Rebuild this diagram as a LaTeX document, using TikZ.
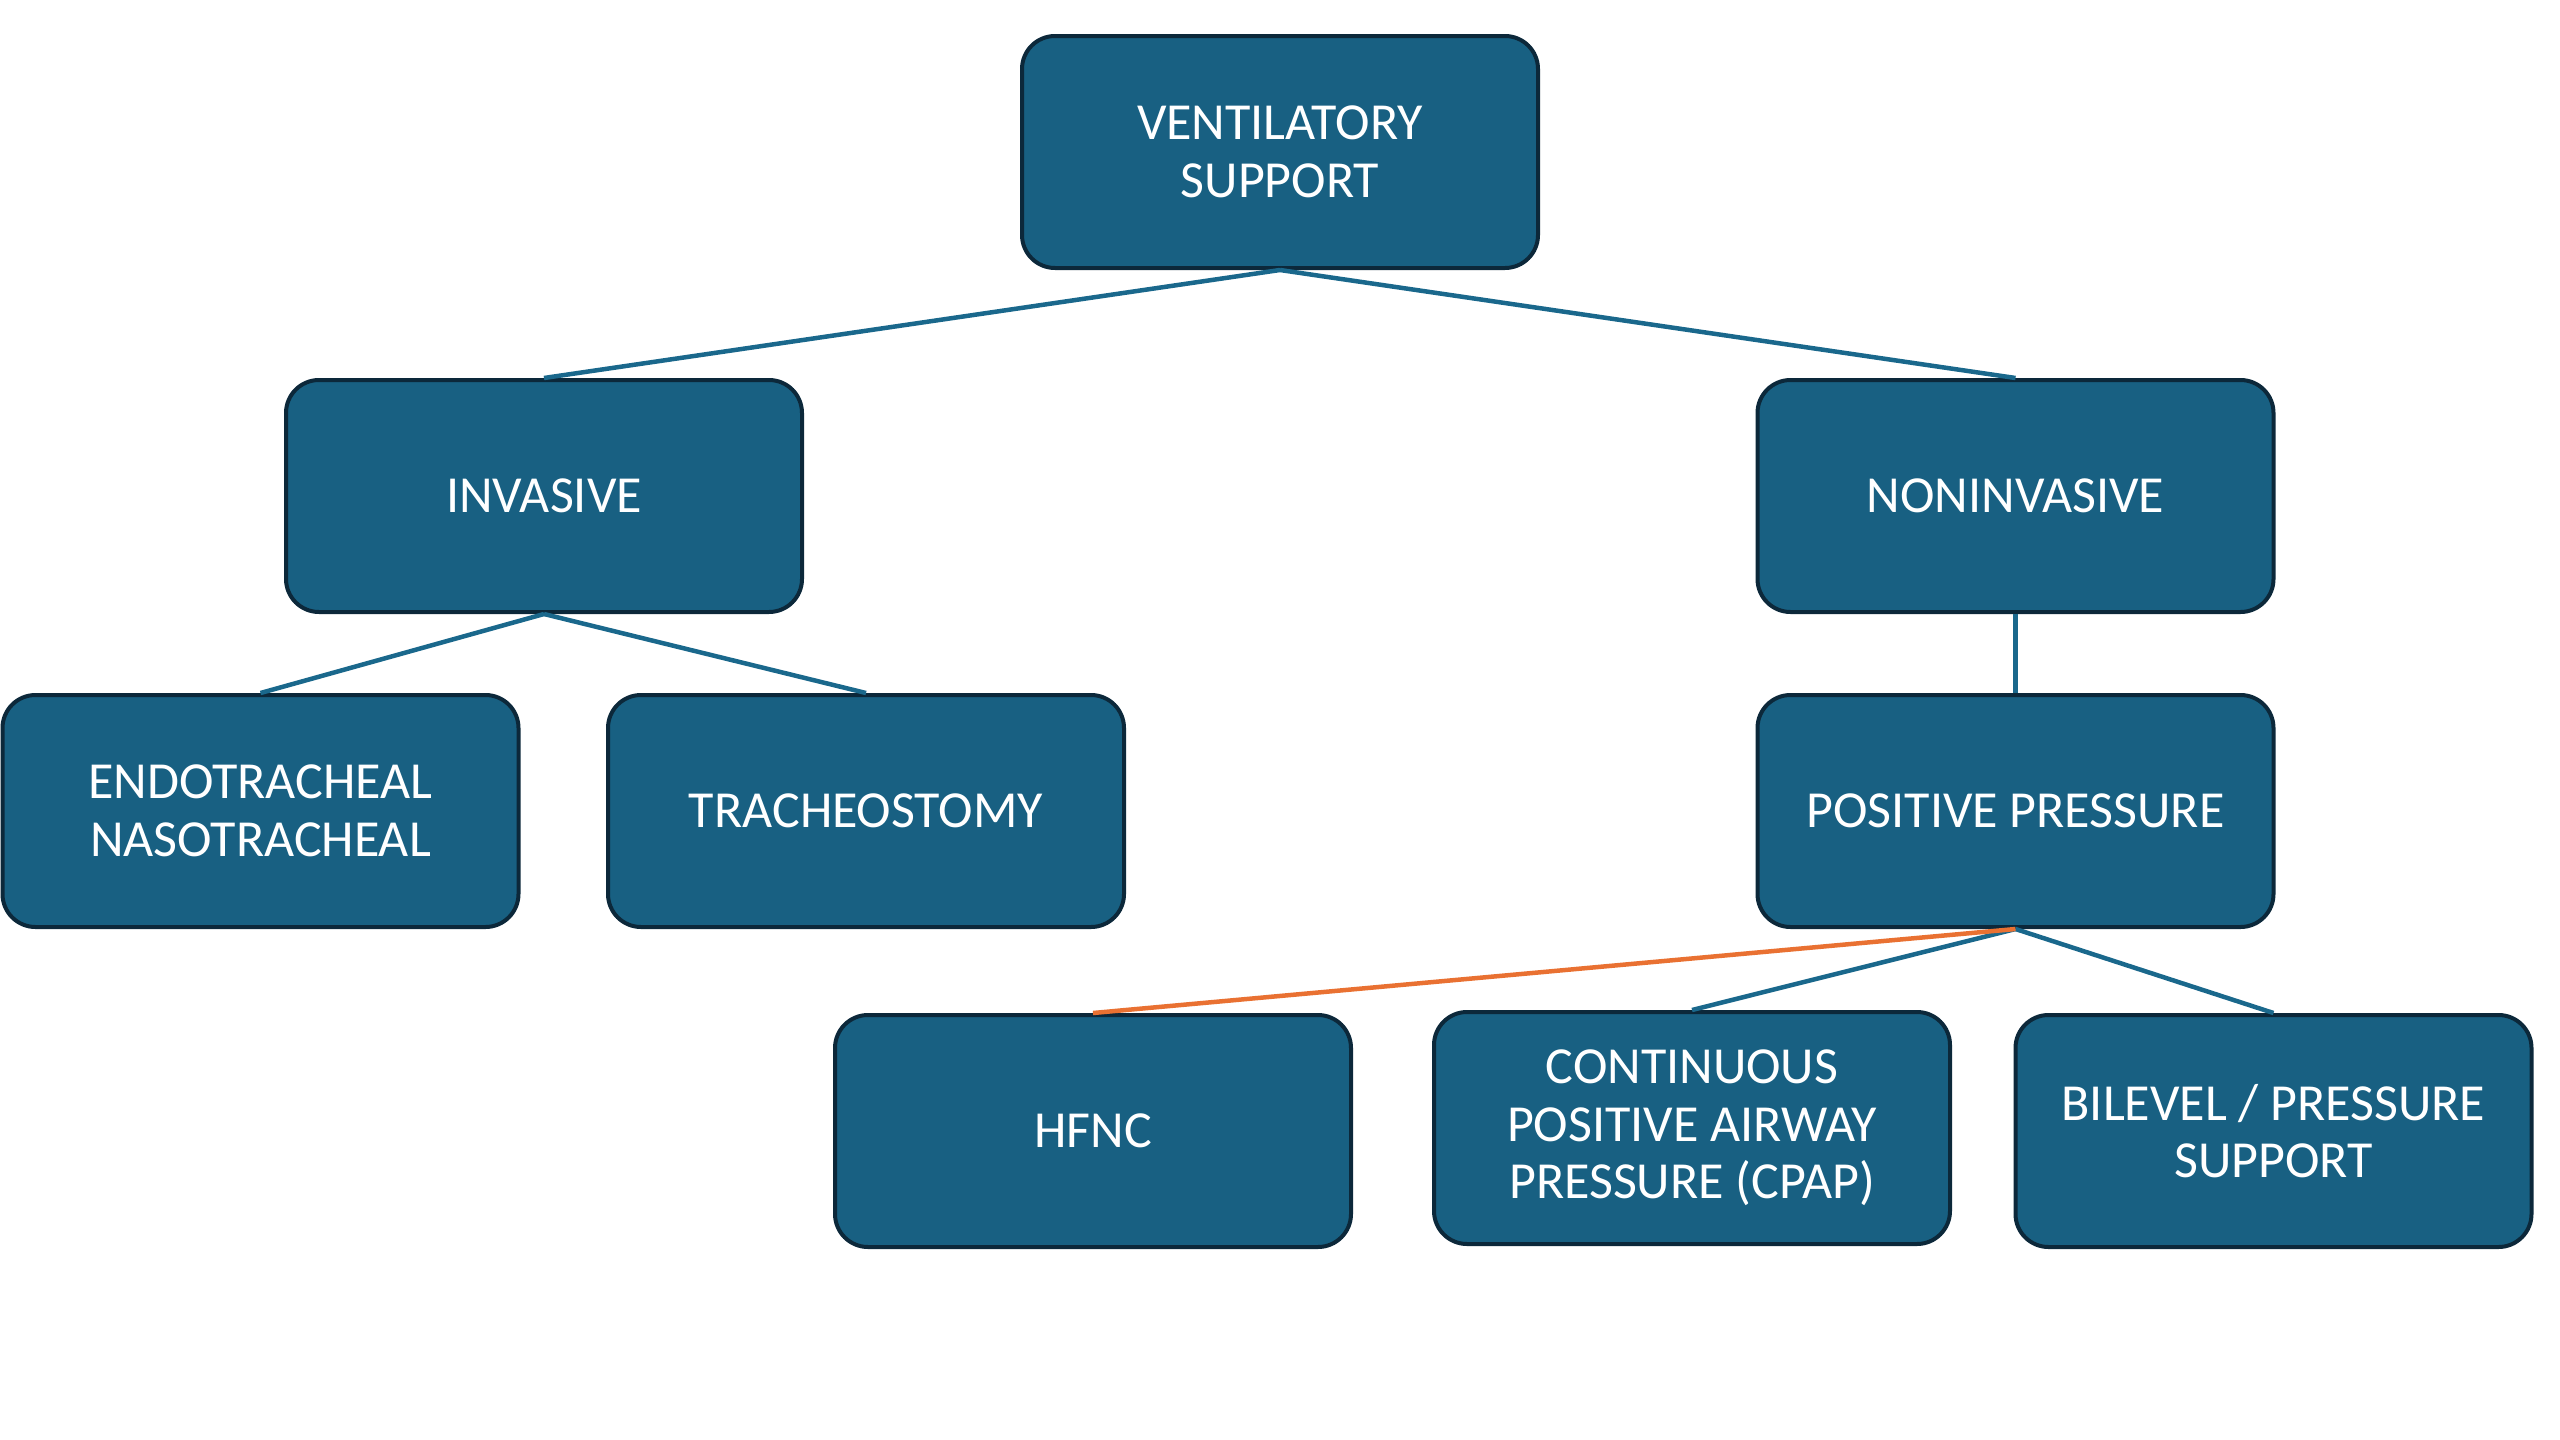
\documentclass[tikz,border=0pt]{standalone}
\usepackage{fontspec}
\setmainfont{Carlito}
\definecolor{boxfill}{RGB}{24,96,130}
\definecolor{boxdraw}{RGB}{12,40,58}
\definecolor{linkblue}{RGB}{26,104,140}
\definecolor{linkorange}{RGB}{233,113,50}
\begin{document}
\begin{tikzpicture}[x=1pt,y=-1pt,
  boxnode/.style={draw=boxdraw,fill=boxfill,line width=4pt,rounded corners=33pt,
    minimum width=516pt,minimum height=232pt,inner sep=0pt,text=white,align=center,
    font=\fontsize{52}{57.5}\selectfont},
  link/.style={draw=linkblue,line width=4.5pt},
  linko/.style={draw=linkorange,line width=4.5pt}]
\useasboundingbox (0,0) rectangle (2560,1440);
\node[boxnode] (vs) at (1280,152) {VENTILATORY\\SUPPORT};
\node[boxnode] (inv) at (544,496) {INVASIVE};
\node[boxnode] (non) at (2015.5,496) {NONINVASIVE};
\node[boxnode] (endo) at (260.5,811) {ENDOTRACHEAL\\NASOTRACHEAL};
\node[boxnode] (tra) at (866,811) {TRACHEOSTOMY};
\node[boxnode] (pp) at (2015.5,811) {POSITIVE PRESSURE};
\node[boxnode] (hf) at (1093,1131) {HFNC};
\node[boxnode] (cp) at (1692,1128) {CONTINUOUS\\POSITIVE AIRWAY\\PRESSURE (CPAP)};
\node[boxnode] (bi) at (2273.5,1131) {BILEVEL / PRESSURE\\SUPPORT};
\draw[link] (vs.south) -- (inv.north);
\draw[link] (vs.south) -- (non.north);
\draw[link] (inv.south) -- (endo.north);
\draw[link] (inv.south) -- (tra.north);
\draw[link] (non.south) -- (pp.north);
\draw[link] (pp.south) -- (cp.north);
\draw[link] (pp.south) -- (bi.north);
\draw[linko] (pp.south) -- (hf.north);
\end{tikzpicture}
\end{document}
